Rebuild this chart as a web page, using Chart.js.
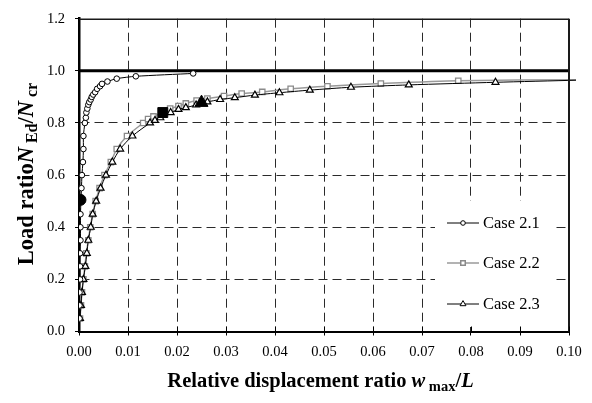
<!DOCTYPE html>
<html>
<head>
<meta charset="utf-8">
<script src="https://cdn.jsdelivr.net/npm/chart.js@4.4.1/dist/chart.umd.min.js"></script>
<style>
  html, body { margin: 0; padding: 0; background: #fff; }
  #wrap { position: relative; width: 592px; height: 403px; }
</style>
</head>
<body>
<div id="wrap"><canvas id="c" width="592" height="403"></canvas></div>
<script>
// Axis ticks
const xTicks = [0, 0.01, 0.02, 0.03, 0.04, 0.05, 0.06, 0.07, 0.08, 0.09, 0.10];
const xTickLabels = ['0.00', '0.01', '0.02', '0.03', '0.04', '0.05', '0.06', '0.07', '0.08', '0.09', '0.10'];
const yTicks = [0, 0.2, 0.4, 0.6, 0.8, 1.0, 1.2];
const yTickLabels = ['0.0', '0.2', '0.4', '0.6', '0.8', '1.0', '1.2'];

// Case 2.1: displacement ratio w_max/L and load ratio N_Ed/N_cr
const case21Disp = [0.0001, 0.0001, 0.0001, 0.0002, 0.0002, 0.0002, 0.0003, 0.0003, 0.0003, 0.0004,
  0.0005, 0.0006, 0.0008, 0.0009, 0.0009, 0.0012, 0.0014, 0.0015, 0.0017, 0.0019, 0.0021, 0.0024,
  0.0026, 0.0029, 0.0033, 0.0037, 0.0043, 0.0047, 0.0058, 0.0077, 0.0116, 0.0233];
const case21Load = [0.05, 0.10, 0.15, 0.20, 0.25, 0.30, 0.35, 0.40, 0.45, 0.50,
  0.55, 0.60, 0.65, 0.70, 0.75, 0.80, 0.82, 0.84, 0.855, 0.87, 0.88, 0.89,
  0.90, 0.909, 0.918, 0.931, 0.941, 0.95, 0.959, 0.97, 0.979, 0.99];

// Case 2.2
const case22Disp = [0.0002, 0.0004, 0.0006, 0.0009, 0.0012, 0.0015, 0.0019, 0.0023, 0.0028, 0.0034,
  0.0042, 0.0052, 0.0065, 0.0077, 0.0098, 0.0131, 0.0141, 0.0152, 0.0171, 0.0186, 0.0203, 0.0218,
  0.0240, 0.0262, 0.0296, 0.0332, 0.0374, 0.0432, 0.0507, 0.0616, 0.0774, 0.1015];
const case22Load = [0.05, 0.10, 0.15, 0.20, 0.25, 0.30, 0.35, 0.40, 0.45, 0.50,
  0.55, 0.60, 0.65, 0.70, 0.75, 0.80, 0.815, 0.825, 0.84, 0.855, 0.865, 0.875,
  0.886, 0.894, 0.903, 0.913, 0.919, 0.931, 0.941, 0.951, 0.962, 0.966];

// Case 2.3
const case23Disp = [0.0002, 0.0004, 0.0006, 0.0009, 0.0013, 0.0016, 0.0019, 0.0024, 0.0028, 0.0035,
  0.0044, 0.0055, 0.0068, 0.0084, 0.0109, 0.0145, 0.0155, 0.0166, 0.0187, 0.0203, 0.0218, 0.0239,
  0.0250, 0.0262, 0.0288, 0.0318, 0.0359, 0.0409, 0.0471, 0.0555, 0.0673, 0.0850, 0.1015];
const case23Load = [0.05, 0.10, 0.15, 0.20, 0.25, 0.30, 0.35, 0.40, 0.45, 0.50,
  0.55, 0.60, 0.65, 0.70, 0.75, 0.80, 0.81, 0.82, 0.84, 0.852, 0.859, 0.869,
  0.878, 0.881, 0.89, 0.897, 0.907, 0.916, 0.926, 0.937, 0.946, 0.956, 0.964];

// Highlighted states on each curve
const keyDisp = [0.0003, 0.0171, 0.0250];
const keyLoad = [0.505, 0.84, 0.878];

// Critical load level
const limitDisp = [0, 0.10];
const limitLoad = [1.0, 1.0];

const seriesNames = ['Case 2.1', 'Case 2.2', 'Case 2.3'];

const pts = (xs, ys) => xs.map((x, i) => ({ x: x, y: ys[i] }));

const SERIF = '"Liberation Serif", "Times New Roman", serif';
const GRAY = '#9a9a9a';
const EXTEND = { left: 0, top: 0, right: 7, bottom: 0 };

const datasets = [
  { label: 'key21', data: pts([keyDisp[0]], [keyLoad[0]]), showLine: false,
    pointStyle: 'circle', pointRadius: 5.5, backgroundColor: '#000', borderColor: '#000', order: 0 },
  { label: 'key22', data: pts([keyDisp[1]], [keyLoad[1]]), showLine: false,
    pointStyle: 'rect', pointRadius: 7, backgroundColor: '#000', borderColor: '#000', order: 0 },
  { label: 'key23', data: pts([keyDisp[2]], [keyLoad[2]]), showLine: false,
    pointStyle: 'triangle', pointRadius: 7.5, backgroundColor: '#000', borderColor: '#000', order: 0 },
  { label: seriesNames[0], data: pts(case21Disp, case21Load), showLine: true, borderColor: '#000', borderWidth: 1,
    pointStyle: 'circle', pointRadius: 2.8, pointBorderWidth: 1, pointBackgroundColor: '#fff',
    pointBorderColor: '#000', tension: 0.25, order: 1 },
  { label: seriesNames[2], data: pts(case23Disp, case23Load), showLine: true, borderColor: '#000', borderWidth: 1,
    pointStyle: 'triangle', pointRadius: (c) => (c.raw && c.raw.x > 0.1 ? 0 : 4), pointBorderWidth: 1.2,
    pointBackgroundColor: '#fff', pointBorderColor: '#000', tension: 0.25, order: 2, clip: EXTEND },
  { label: seriesNames[1], data: pts(case22Disp, case22Load), showLine: true, borderColor: GRAY, borderWidth: 1.5,
    pointStyle: 'rect', pointRadius: (c) => (c.raw && c.raw.x > 0.1 ? 0 : 3.8), pointBorderWidth: 1.3,
    pointBackgroundColor: '#fff', pointBorderColor: '#8a8a8a', tension: 0.25, order: 3, clip: EXTEND },
  { label: 'limit', data: pts(limitDisp, limitLoad), showLine: true, borderColor: '#000', borderWidth: 3,
    pointRadius: 0, tension: 0, order: 4 }
];

// Draws a run of text pieces with mixed fonts, centred on (cx, baseline y)
function drawRich(ctx, parts, cx, y) {
  let total = 0;
  parts.forEach(p => { ctx.font = p.font; p.w = ctx.measureText(p.text).width; total += p.w; });
  let x = cx - total / 2;
  parts.forEach(p => {
    ctx.font = p.font;
    ctx.fillText(p.text, x, y + (p.dy || 0));
    x += p.w;
  });
}

const framePlugin = {
  id: 'frame',
  afterDatasetsDraw(chart) {
    const { ctx, chartArea: a, scales } = chart;
    ctx.save();
    // top and right edges of the plot frame
    ctx.strokeStyle = '#1a1a1a';
    ctx.lineWidth = 1.5;
    ctx.beginPath();
    ctx.moveTo(a.left, a.top + 0.5);
    ctx.lineTo(a.right, a.top + 0.5);
    ctx.stroke();
    ctx.lineWidth = 2;
    ctx.beginPath();
    ctx.moveTo(a.right, a.top);
    ctx.lineTo(a.right, a.bottom);
    ctx.stroke();

    // legend panel
    const lx = 435, ly = 201, lw = 121, lh = 126;
    ctx.fillStyle = '#fff';
    ctx.fillRect(lx, ly, lw, lh);
    const rows = [
      { name: seriesNames[0], color: '#000', mark: '#000', style: 'circle', r: 2.3, y: 223 },
      { name: seriesNames[1], color: GRAY, mark: '#8a8a8a', style: 'rect', r: 3.2, y: 263 },
      { name: seriesNames[2], color: '#000', mark: '#000', style: 'triangle', r: 3.4, y: 304 }
    ];
    rows.forEach(row => {
      ctx.strokeStyle = row.color;
      ctx.lineWidth = row.style === 'rect' ? 1.5 : 1;
      ctx.beginPath();
      ctx.moveTo(447, row.y);
      ctx.lineTo(479, row.y);
      ctx.stroke();
      ctx.fillStyle = '#fff';
      ctx.strokeStyle = row.mark;
      Chart.helpers.drawPoint(ctx, { pointStyle: row.style, radius: row.r, rotation: 0, borderWidth: 1.1 }, 463, row.y);
      ctx.fillStyle = '#000';
      ctx.font = '16.5px ' + SERIF;
      ctx.textBaseline = 'middle';
      ctx.textAlign = 'left';
      ctx.fillText(row.name, 483, row.y + 1);
    });

    // inner tick marks on the bottom axis
    ctx.strokeStyle = '#000';
    ctx.lineWidth = 1;
    xTicks.forEach(v => {
      const px = Math.round(scales.x.getPixelForValue(v)) + 0.5;
      ctx.beginPath();
      ctx.moveTo(px, a.bottom - 5);
      ctx.lineTo(px, a.bottom);
      ctx.stroke();
    });
    ctx.restore();
  },
  afterDraw(chart) {
    const { ctx } = chart;
    ctx.save();
    ctx.fillStyle = '#000';
    ctx.textBaseline = 'alphabetic';
    ctx.textAlign = 'left';
    const big = 'bold 20.5px ' + SERIF;
    const bigIt = 'italic bold 20.5px ' + SERIF;
    const sub = 'bold 14.5px ' + SERIF;
    drawRich(ctx, [
      { text: 'Relative displacement ratio ', font: big },
      { text: 'w', font: bigIt },
      { text: ' max', font: sub, dy: 4 },
      { text: '/', font: big },
      { text: 'L', font: bigIt }
    ], 320.5, 387);

    const yBig = 'bold 22.5px ' + SERIF;
    const yIt = 'italic bold 22.5px ' + SERIF;
    const ySub = 'bold 16px ' + SERIF;
    ctx.translate(33, 174);
    ctx.rotate(-Math.PI / 2);
    drawRich(ctx, [
      { text: 'Load ratio', font: yBig },
      { text: 'N', font: yIt },
      { text: ' Ed', font: ySub, dy: 4 },
      { text: '/', font: yBig },
      { text: 'N', font: yIt },
      { text: ' cr', font: ySub, dy: 4 }
    ], 0, 0);
    ctx.restore();
  }
};

const edgeAware = (n) => (ctx) => (ctx.index === 0 || ctx.index === n - 1 ? 'rgba(0,0,0,0)' : '#2a2a2a');

new Chart(document.getElementById('c'), {
  type: 'scatter',
  data: { datasets: datasets },
  options: {
    responsive: false,
    animation: false,
    devicePixelRatio: 1,
    layout: { padding: { left: 0, top: 15, right: 23, bottom: 0 } },
    plugins: { legend: { display: false }, tooltip: { enabled: false } },
    elements: { line: { fill: false } },
    scales: {
      x: {
        type: 'linear', min: 0, max: 0.10,
        afterBuildTicks: (s) => { s.ticks = xTicks.map(v => ({ value: v })); },
        afterFit: (s) => { s.height = 71.5; },
        ticks: {
          autoSkip: false, maxRotation: 0, color: '#000', padding: 8,
          font: { family: SERIF, size: 14.5 },
          callback: (v, i) => xTickLabels[i]
        },
        grid: { color: edgeAware(xTicks.length), lineWidth: 1, tickColor: '#000', tickLength: 4, tickWidth: 1 },
        border: { display: true, color: '#000', width: 2, dash: [9, 5] }
      },
      y: {
        type: 'linear', min: 0, max: 1.2,
        afterBuildTicks: (s) => { s.ticks = yTicks.map(v => ({ value: v })); },
        afterFit: (s) => { s.width = 79; },
        ticks: {
          autoSkip: false, color: '#000', padding: 10,
          font: { family: SERIF, size: 14.5 },
          callback: (v, i) => yTickLabels[i]
        },
        grid: { color: edgeAware(yTicks.length), lineWidth: 1, tickColor: '#000', tickLength: 4, tickWidth: 1 },
        border: { display: true, color: '#000', width: 2.5, dash: [9, 5] }
      }
    }
  },
  plugins: [framePlugin]
});
</script>
</body>
</html>
